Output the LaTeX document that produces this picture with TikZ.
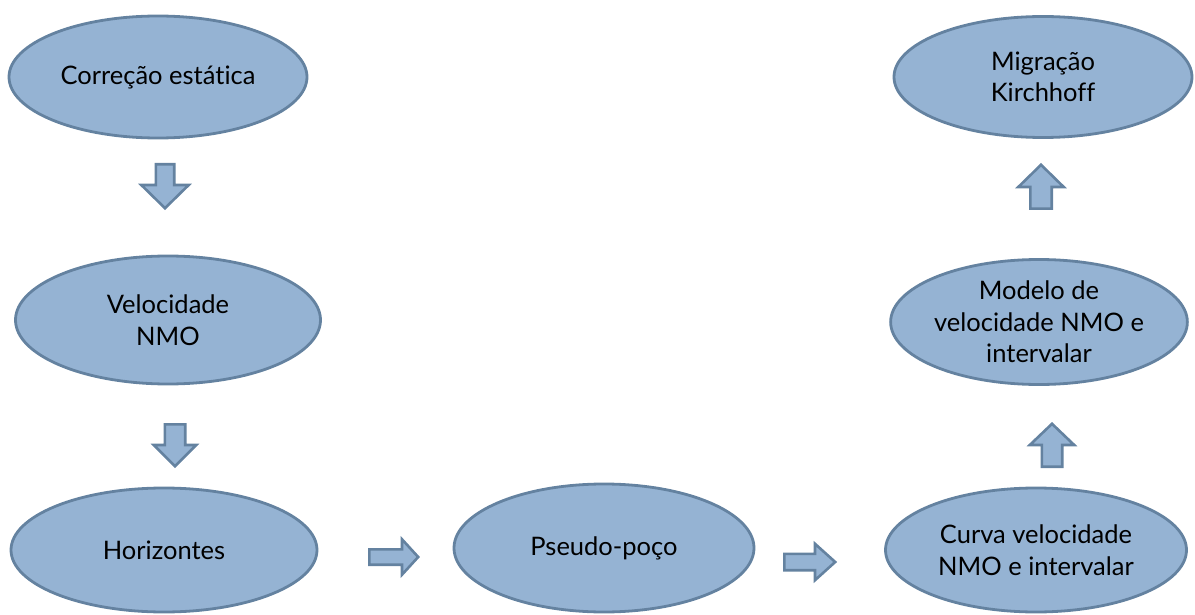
\documentclass[tikz,border=0pt]{standalone}
\usepackage{fontspec}
\setmainfont{Lato}[Ligatures=NoCommon]
\usetikzlibrary{shapes.geometric}
\definecolor{ellfill}{RGB}{149,179,211}
\definecolor{ellborder}{RGB}{100,130,160}
\definecolor{arrfill}{RGB}{149,179,211}
\definecolor{arrborder}{RGB}{100,130,160}
\tikzset{
  ell/.style={ellipse, draw=ellborder, fill=ellfill, line width=2.8pt,
    align=center, inner sep=0pt, text=black,
    font=\fontsize{25.5}{31.5}\selectfont},
  arrstyle/.style={draw=arrborder, fill=arrfill, line width=2.6pt, line join=miter},
}
% #1 x, #2 y, #3 angle, #4 length, #5 shaft width, #6 head width, #7 head length
\newcommand{\blkarrow}[7]{%
  \begin{scope}[shift={(#1,#2)}, rotate=#3]
    \draw[arrstyle] (-#4/2+1.3,-#5/2+1.3) -- (#4/2-#7,-#5/2+1.3) -- (#4/2-#7,-#6/2+1.3)
      -- (#4/2-1.8,0) -- (#4/2-#7,#6/2-1.3) -- (#4/2-#7,#5/2-1.3) -- (-#4/2+1.3,#5/2-1.3) -- cycle;
  \end{scope}}
\begin{document}
\begin{tikzpicture}[x=1pt,y=-1pt]
\useasboundingbox (0,0) rectangle (1195,615);
\node[ell, minimum width=298pt, minimum height=122pt] (corr) at (158,77) {Correção estática};
\node[ell, minimum width=305pt, minimum height=128pt] (vel) at (168,320) {Velocidade\\NMO};
\node[ell, minimum width=306pt, minimum height=124pt] (hor) at (164,550) {Horizontes};
\node[ell, minimum width=300pt, minimum height=128pt] (pseudo) at (604,548) {Pseudo-poço};
\node[ell, minimum width=301pt, minimum height=124pt] (curva) at (1036,550) {Curva velocidade\\NMO e intervalar};
\node[ell, minimum width=296pt, minimum height=125pt] (modelo) at (1039,322) {Modelo de\\velocidade NMO e\\intervalar};
\node[ell, minimum width=298pt, minimum height=121pt] (migr) at (1043,77) {Migração\\Kirchhoff};
% block arrows
\blkarrow{165}{186.5}{-90}{47}{21}{50}{25}
\blkarrow{175}{445.5}{-90}{45}{23}{45}{23}
\blkarrow{394}{557}{0}{52}{18}{38}{18}
\blkarrow{810}{562}{0}{54}{19}{39}{22}
\blkarrow{1041}{186.5}{90}{47}{24}{48}{24}
\blkarrow{1052}{445}{90}{46}{23}{47}{23}
\end{tikzpicture}
\end{document}
